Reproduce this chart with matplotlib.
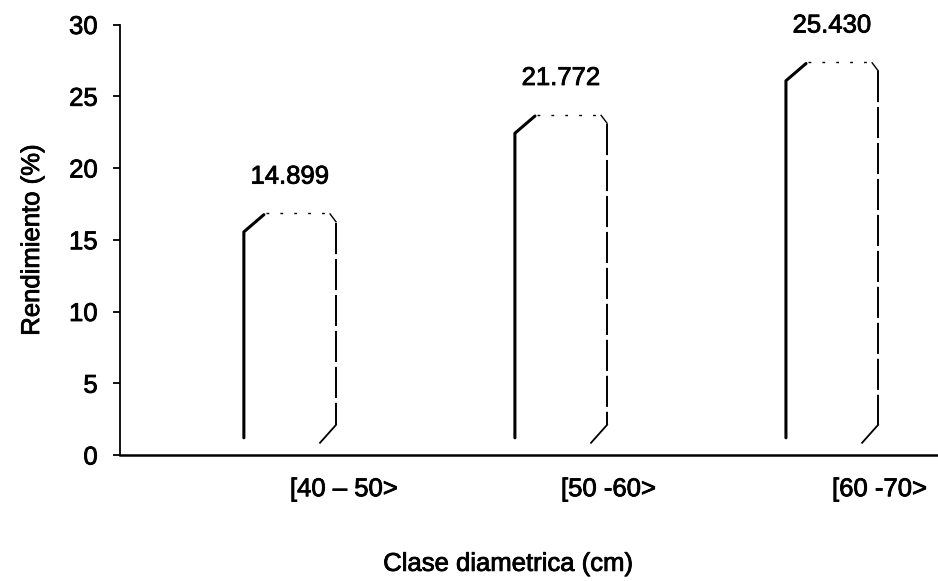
import matplotlib.pyplot as plt
import matplotlib.patheffects as pe
from matplotlib.text import Text
from matplotlib.transforms import ScaledTranslation

plt.rcParams["font.family"] = ["Liberation Sans", "DejaVu Sans"]
plt.rcParams["font.size"] = 18.5

# Rendimiento por clase diametrica
clases = ["[40 \u2013 50>", "[50 -60>", "[60 -70>"]
rendimiento = [14.899, 21.772, 25.430]
etiquetas = ["14.899", "21.772", "25.430"]

fig = plt.figure(figsize=(9.38, 5.81), dpi=100)
ax = fig.add_axes([120 / 938, 126 / 581, 818 / 938, 430.5 / 581])

x = list(range(len(clases)))
base = 1.2      # desplazamiento del piso (efecto 3D)
ancho = 0.34

barras = ax.bar(x, rendimiento, width=ancho, bottom=base,
                facecolor="white", edgecolor="none", zorder=2)

# contorno de cada barra: lado izquierdo continuo, derecho a trazos
for rect, v, txt in zip(barras, rendimiento, etiquetas):
    x0 = rect.get_x()
    x1 = x0 + rect.get_width()
    top = base + v
    ax.plot([x0, x0, x0 + 0.074], [base, top - 0.55, top + 0.65],
            color="black", lw=2.2, solid_capstyle="round", zorder=3)
    ax.plot([x0 + 0.08, x1 - 0.025], [top + 0.75, top + 0.75],
            color="black", lw=1.0, linestyle=(0, (2, 8)), zorder=3)
    ax.plot([x1 - 0.022, x1], [top + 0.7, top + 0.15],
            color="black", lw=1.0, zorder=3)
    ax.plot([x1, x1], [top + 0.1, base + 0.9],
            color="black", lw=1.4, linestyle=(0, (16, 2.5)), zorder=3)
    ax.plot([x1, x1 - 0.059], [base + 0.9, base - 0.35],
            color="black", lw=1.3, zorder=3)
    ax.text(rect.get_x() + rect.get_width() / 2, top + 3.3, txt,
            ha="center", va="center", fontsize=18.5)

ax.set_xlim(-0.627, 2.391)
ax.set_ylim(0, 30)
ax.set_yticks(range(0, 31, 5))
ax.set_xticks(x)
ax.set_xticklabels(clases, ha="left")
desplazar = ScaledTranslation(-4 / 100, 0, fig.dpi_scale_trans)
for lbl in ax.get_xticklabels():
    lbl.set_transform(lbl.get_transform() + desplazar)

ax.spines["top"].set_visible(False)
ax.spines["right"].set_visible(False)
ax.spines["left"].set_linewidth(1.3)
ax.spines["bottom"].set_linewidth(1.8)

ax.tick_params(axis="y", direction="out", length=5, width=1.3, pad=11)
ax.tick_params(axis="x", length=0, pad=16)

ax.set_ylabel("Rendimiento (%)", labelpad=18)
ax.set_xlabel("Clase diametrica (cm)")
ax.xaxis.set_label_coords(0.475, -0.225)

# trazo un poco más grueso en los textos
for t in fig.findobj(Text):
    t.set_path_effects([pe.withStroke(linewidth=0.6, foreground="black")])

fig.savefig("out.png", dpi=100)
